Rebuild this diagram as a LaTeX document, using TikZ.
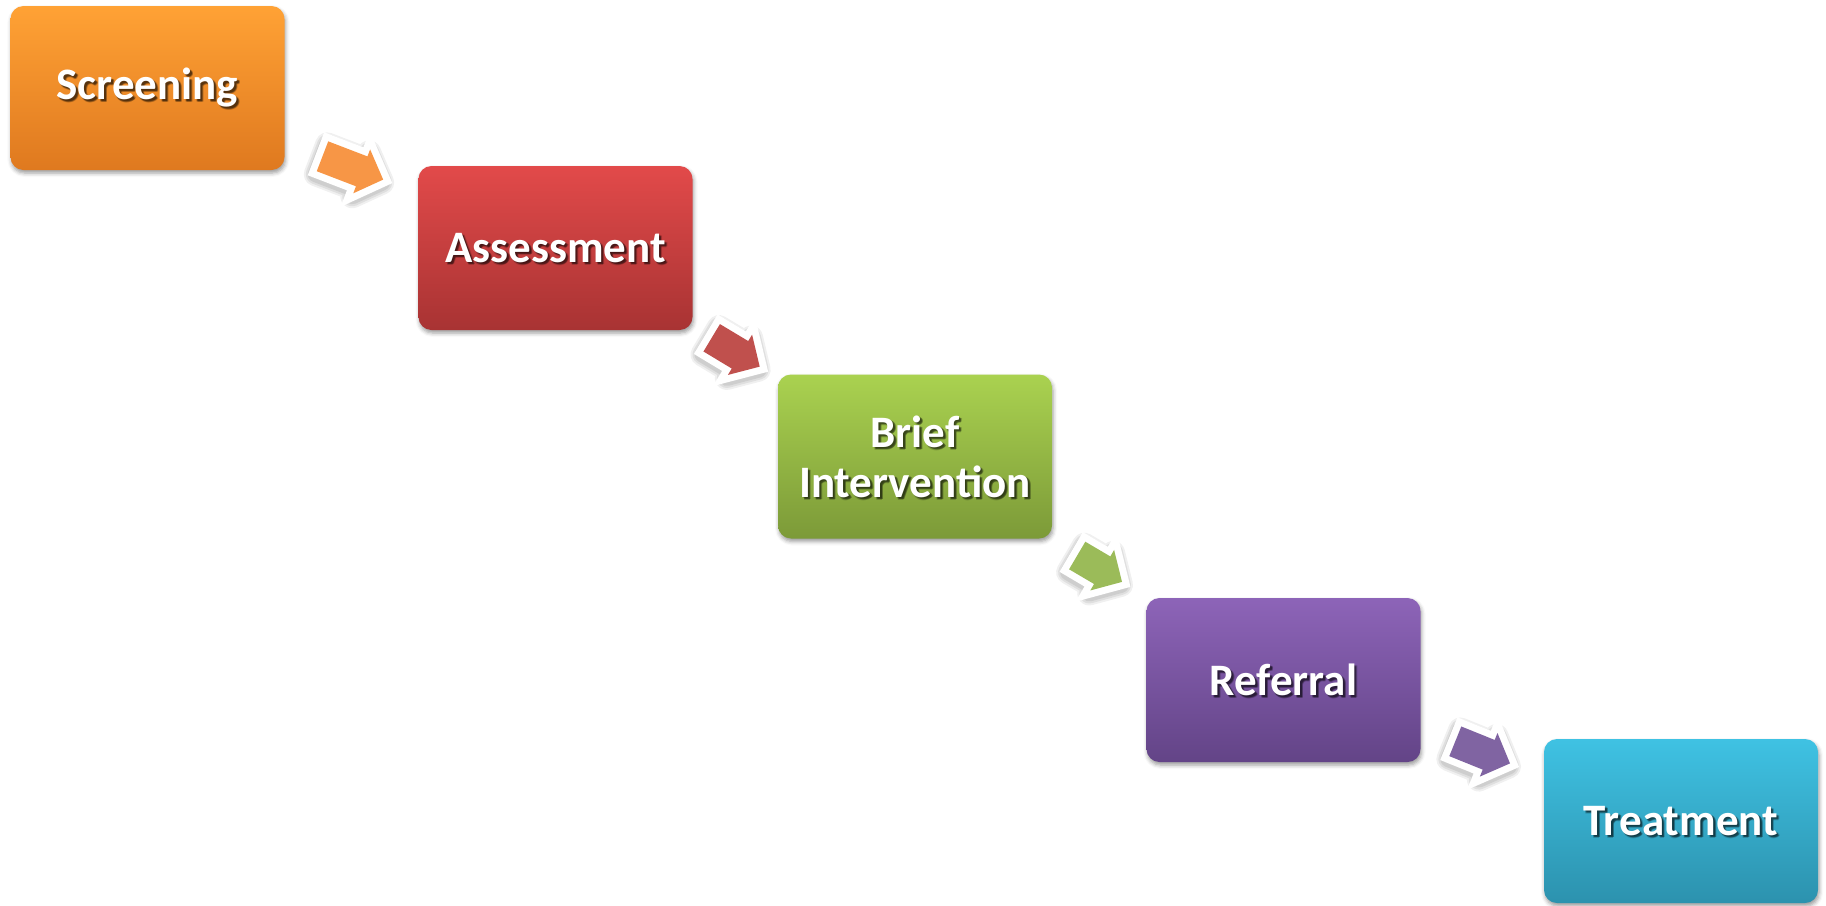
\documentclass[tikz,border=0pt]{standalone}
\usepackage{fontspec}
\setmainfont{Carlito}
\usetikzlibrary{shadows,shadows.blur}
\definecolor{orT}{HTML}{FFA235}\definecolor{orB}{HTML}{DF791F}
\definecolor{rdT}{HTML}{E24A4A}\definecolor{rdB}{HTML}{A83333}
\definecolor{grT}{HTML}{AAD250}\definecolor{grB}{HTML}{7C9A38}
\definecolor{puT}{HTML}{8D64B8}\definecolor{puB}{HTML}{634487}
\definecolor{tqT}{HTML}{3FC2E3}\definecolor{tqB}{HTML}{2C92AE}
\definecolor{orA}{HTML}{F79646}\definecolor{rdA}{HTML}{C0504D}
\definecolor{grA}{HTML}{9BBB59}\definecolor{puA}{HTML}{8064A2}
\tikzset{
  box/.style={rounded corners=13pt, minimum width=274pt, minimum height=164pt,
    inner sep=0pt, align=center, text=white,
    font=\bfseries\fontsize{45}{50}\selectfont,
    blur shadow={shadow xshift=1pt, shadow yshift=-3pt, shadow blur radius=4pt, shadow opacity=40}},
  boxtext/.style={inner sep=0pt, align=center, text=white,
    font=\bfseries\fontsize{45}{50}\selectfont},
  txtshadow/.style={inner sep=0pt, align=center, text=black, opacity=0.18,
    font=\bfseries\fontsize{45}{50}\selectfont},
  arrowwhite/.style={draw=white, fill=white, line width=14pt, line join=miter},
  arrowshade/.style={draw=black, fill=black, line join=round, draw opacity=#1, fill opacity=#1},
}
\newcommand{\arrowpath}[1]{(0,-16) -- ({#1-23},-16) -- ({#1-23},-23.5) -- (#1,0) -- ({#1-23},23.5) -- ({#1-23},16) -- (0,16) -- cycle}
% #1,#2 tail middle; #3 angle; #4 length; #5 colour
\newcommand{\steparrow}[5]{%
  \begin{scope}[shift={({#1-1},{#2+3})}, rotate=#3]
    \path[arrowshade=0.06, line width=24pt] \arrowpath{#4};
    \path[arrowshade=0.07, line width=20pt] \arrowpath{#4};
    \path[arrowshade=0.08, line width=16pt] \arrowpath{#4};
  \end{scope}
  \begin{scope}[shift={(#1,#2)}, rotate=#3]
    \path[arrowwhite] \arrowpath{#4};
    \fill[#5] \arrowpath{#4};
  \end{scope}}
\newcommand{\shadowtext}[2]{%
  \foreach \dx/\dy in {1.5/-1.5, 2.5/-2.5, 3/-2, 2/-3, 2/-2} {
    \node[txtshadow] at ([shift={(\dx pt,\dy pt)}]#1.center) {#2};
  }}
\begin{document}
\begin{tikzpicture}[x=1pt, y=-1pt]
\useasboundingbox (0,0) rectangle (1826,905);
% boxes
\node[box, top color=orT, bottom color=orB] (scr) at (147.5,88) {};
\node[box, top color=rdT, bottom color=rdB] (ass) at (555.5,248) {};
\node[box, top color=grT, bottom color=grB] (bri) at (915,456.5) {};
\node[box, top color=puT, bottom color=puB] (ref) at (1283.5,680) {};
\node[box, top color=tqT, bottom color=tqB] (tre) at (1681,821) {};
% text shadows
\shadowtext{scr}{Screening}
\shadowtext{ass}{Assessment}
\shadowtext{bri}{Brief\\Intervention}
\shadowtext{ref}{Referral}
\shadowtext{tre}{Treatment}
% texts
\node[boxtext] (scrt) at (scr.center) {Screening};
\node[boxtext] (asst) at (ass.center) {Assessment};
\node[boxtext] (brit) at (bri.center) {Brief\\Intervention};
\node[boxtext] (reft) at (ref.center) {Referral};
\node[boxtext] (tret) at (tre.center) {Treatment};
% arrows
\steparrow{322.5}{156.3}{-21}{65}{orA}
\steparrow{711.7}{337.8}{-31}{56}{rdA}
\steparrow{1077.2}{555.5}{-30.5}{52}{grA}
\steparrow{1455.3}{741.3}{-22}{59}{puA}
\end{tikzpicture}
\end{document}
